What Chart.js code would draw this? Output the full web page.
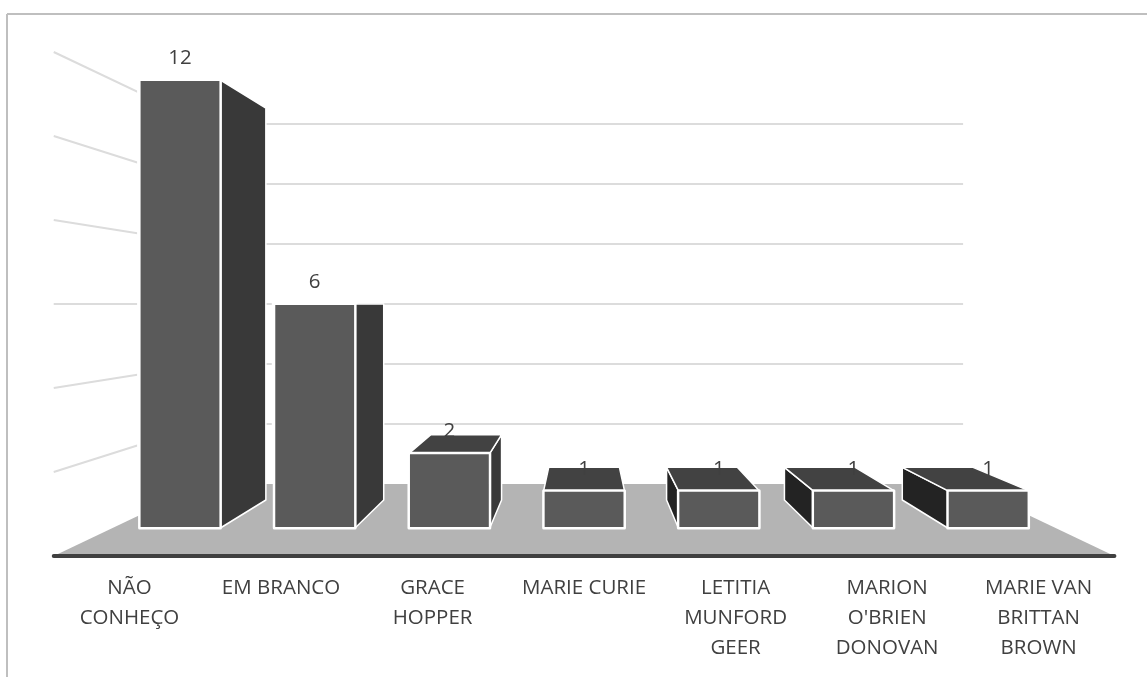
<!DOCTYPE html>
<html>
<head>
<meta charset="utf-8">
<title>Chart</title>
<style>
    body { margin: 0; background: #fff; overflow: hidden; }
</style>
<script src="https://cdn.jsdelivr.net/npm/chart.js@4"></script>
</head>
<body>
<canvas id="chart" width="1147" height="677"></canvas>
<script>
const categories = [
    ['NÃO', 'CONHEÇO'],
    ['EM BRANCO'],
    ['GRACE', 'HOPPER'],
    ['MARIE CURIE'],
    ['LETITIA', 'MUNFORD', 'GEER'],
    ['MARION', "O'BRIEN", 'DONOVAN'],
    ['MARIE VAN', 'BRITTAN', 'BROWN']
];
const values = [12, 6, 2, 1, 1, 1, 1];
const axisMax = 12;
const axisStep = 2;

// how far along the line to the vanishing point each plane sits
const floorFront = -0.125;
const barBack = 0.125;
const wallBack = 0.196;

const FONT = '20.5px "Open Sans", sans-serif';
const TEXT_COLOR = '#404040';

function polygon(ctx, points, fill, stroke) {
    ctx.beginPath();
    points.forEach((p, i) => (i ? ctx.lineTo(p[0], p[1]) : ctx.moveTo(p[0], p[1])));
    ctx.closePath();
    ctx.fillStyle = fill;
    ctx.fill();
    if (stroke) {
        ctx.strokeStyle = stroke;
        ctx.lineWidth = 1.5;
        ctx.lineJoin = 'round';
        ctx.stroke();
    }
}

function line(ctx, a, b, color, width, cap) {
    ctx.beginPath();
    ctx.moveTo(a[0], a[1]);
    ctx.lineTo(b[0], b[1]);
    ctx.strokeStyle = color;
    ctx.lineWidth = width;
    ctx.lineCap = cap || 'butt';
    ctx.stroke();
}

// fake 3D room and bar sides, everything projected from the chart scales
const box3d = {
    id: 'box3d',
    beforeDatasetsDraw(chart) {
        const ctx = chart.ctx;
        const area = chart.chartArea;
        const y = chart.scales.y;
        const vx = (area.left + area.right) / 2;
        const vy = y.getPixelForValue(axisMax / 2);
        const project = (px, py, t) => [px + (vx - px) * t, py + (vy - py) * t];
        const bars = chart.getDatasetMeta(0).data;

        ctx.save();

        // outer frame, open at right and bottom
        line(ctx, [7, 677], [7, 14], '#bfbfbf', 2);
        line(ctx, [7, 14], [1147, 14], '#bfbfbf', 2);

        // gridlines on back and left walls
        y.ticks.filter((t) => t.value > 0).forEach((t) => {
            const py = y.getPixelForValue(t.value);
            const backLeft = project(area.left, py, wallBack);
            line(ctx, backLeft, project(area.right, py, wallBack), '#dcdcdc', 2);
            line(ctx, project(area.left, py, floorFront), backLeft, '#dcdcdc', 2);
        });

        // white halo that cuts the gridlines near the bars
        bars.forEach((bar) => {
            ctx.strokeStyle = '#fff';
            ctx.lineWidth = 5;
            ctx.strokeRect(bar.x - bar.width / 2, bar.y, bar.width, bar.base - bar.y);
        });

        // floor
        polygon(ctx, [
            project(area.left, area.bottom, floorFront),
            project(area.right, area.bottom, floorFront),
            project(area.right, area.bottom, wallBack),
            project(area.left, area.bottom, wallBack)
        ], '#b4b4b4');
        const axisL = project(area.left, area.bottom, floorFront);
        const axisR = project(area.right, area.bottom, floorFront);
        line(ctx, [axisL[0], axisL[1] + 2.5], [axisR[0], axisR[1] + 2.5], '#fff', 2);
        line(ctx, axisL, axisR, '#404040', 4, 'round');

        // bar sides and tops
        bars.forEach((bar) => {
            const l = bar.x - bar.width / 2;
            const r = bar.x + bar.width / 2;
            const top = bar.y;
            const base = bar.base;
            if (r < vx) {
                polygon(ctx, [[r, top], project(r, top, barBack), project(r, base, barBack), [r, base]], '#393939', '#fff');
            }
            if (l > vx) {
                polygon(ctx, [[l, top], project(l, top, barBack), project(l, base, barBack), [l, base]], '#232323', '#fff');
            }
            if (top > vy) {
                polygon(ctx, [[l, top], project(l, top, barBack), project(r, top, barBack), [r, top]], '#424242', '#fff');
            }
            // white edge of the front face
            ctx.strokeStyle = '#fff';
            ctx.lineWidth = 3;
            ctx.strokeRect(l, top, bar.width, base - top);
        });

        ctx.restore();
    },
    afterDatasetsDraw(chart) {
        const ctx = chart.ctx;
        const area = chart.chartArea;
        const x = chart.scales.x;
        const vx = (area.left + area.right) / 2;
        ctx.save();
        ctx.font = FONT;
        ctx.fillStyle = TEXT_COLOR;
        ctx.textAlign = 'center';
        ctx.textBaseline = 'middle';
        chart.getDatasetMeta(0).data.forEach((bar, i) => {
            ctx.fillText(values[i], bar.x, bar.y - 22);
        });
        // category labels sit on the front edge of the floor, so they spread wider than the bars
        categories.forEach((rows, i) => {
            const px = x.getPixelForTick(i);
            const labelX = px + (vx - px) * floorFront;
            rows.forEach((row, j) => {
                ctx.fillText(row, labelX, area.bottom + 60.5 + j * 30);
            });
        });
        ctx.restore();
    }
};

new Chart(document.getElementById('chart'), {
    type: 'bar',
    data: {
        labels: categories,
        datasets: [{
            data: values,
            backgroundColor: '#5a5a5a',
            borderColor: '#fff',
            borderWidth: 1,
            borderSkipped: false,
            categoryPercentage: 1,
            barPercentage: 0.6
        }]
    },
    plugins: [box3d],
    options: {
        responsive: false,
        animation: false,
        layout: { padding: { left: 112.65, right: 91.5, top: 80, bottom: 0 } },
        plugins: {
            legend: { display: false },
            tooltip: { enabled: false }
        },
        scales: {
            x: {
                grid: { display: false },
                border: { display: false },
                afterFit(scale) { scale.height = 149; },
                ticks: { display: false }
            },
            y: {
                display: false,
                min: 0,
                max: axisMax,
                ticks: { stepSize: axisStep }
            }
        }
    }
});
</script>
</body>
</html>
